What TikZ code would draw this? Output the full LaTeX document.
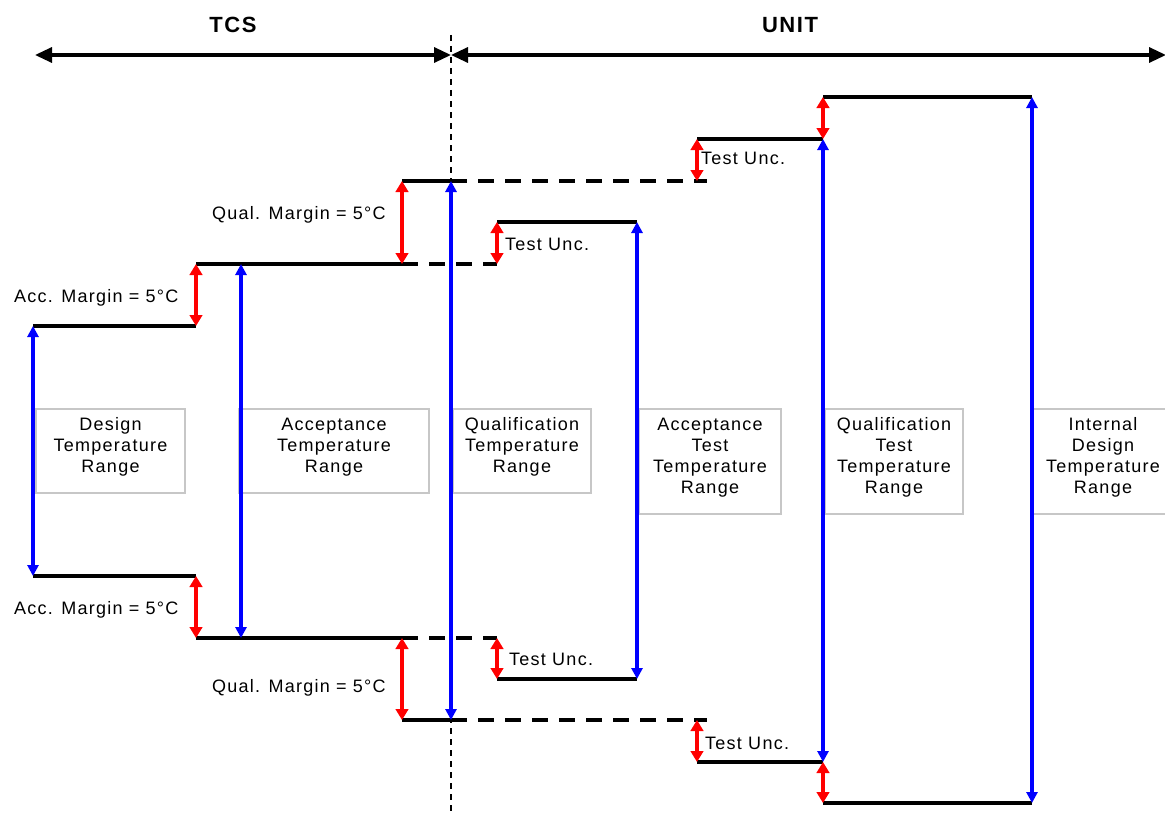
\documentclass[tikz,border=0pt]{standalone}
\usepackage{fontspec}
\setmainfont{Liberation Sans}[LetterSpace=7]
\usetikzlibrary{arrows.meta}
\begin{document}
\begin{tikzpicture}[x=1pt,y=-1pt,
  lvl/.style={line width=3.3pt},
  lvldash/.style={line width=3.3pt, dash pattern=on 16pt off 11pt},
  bluearr/.style={blue, line width=3.5pt, {Triangle[width=11pt,length=11pt]}-{Triangle[width=11pt,length=11pt]}},
  redarr/.style={red, line width=3.5pt, {Triangle[width=12.5pt,length=11pt]}-{Triangle[width=12.5pt,length=11pt]}},
  toparr/.style={line width=3.3pt, {Triangle[width=15pt,length=17pt]}-{Triangle[width=15pt,length=17pt]}},
  lbl/.style={font=\fontsize{18}{21}\selectfont, inner sep=0pt, anchor=west},
  head/.style={font=\fontsize{22}{26}\selectfont\bfseries, inner sep=0pt},
  rangebox/.style={draw=black!22, line width=2pt, fill=white, inner sep=0pt, anchor=north west},
  boxtext/.style={align=center, inner sep=0pt, font=\fontsize{18}{21}\selectfont, yshift=4pt}
]
\useasboundingbox (0,0) rectangle (1165,816);

% headings
\node[head] (tcs) at (233,25) {TCS};
\node[head] (unit) at (790,25) {UNIT};
\coordinate (tl) at (35,55);
\coordinate (tm) at (451,55);
\coordinate (tr) at (1166,55);
\draw[toparr] (tl) -- (tm);
\draw[toparr] (tm) -- (tr);
\coordinate (vt) at (451,35);
\coordinate (vb) at (451,812);
\draw[line width=2.5pt, dash pattern=on 6pt off 5pt] (vt) -- (vb);

% boxes
\node[rangebox, minimum width=149pt, minimum height=84pt] (boxD) at (35,408) {};
\node[rangebox, minimum width=190pt, minimum height=84pt] (boxA) at (238,408) {};
\node[rangebox, minimum width=138pt, minimum height=84pt] (boxQ) at (452,408) {};
\node[rangebox, minimum width=142pt, minimum height=105pt] (boxAT) at (638,408) {};
\node[rangebox, minimum width=138pt, minimum height=105pt] (boxQT) at (824,408) {};
\node[rangebox, minimum width=140pt, minimum height=105pt] (boxID) at (1032,408) {};
\node[boxtext] (txtD) at (boxD.center) {Design\\Temperature\\Range};
\node[boxtext] (txtA) at (boxA.center) {Acceptance\\Temperature\\Range};
\node[boxtext] (txtQ) at (boxQ.center) {Qualification\\Temperature\\Range};
\node[boxtext] (txtAT) at (boxAT.center) {Acceptance\\Test\\Temperature\\Range};
\node[boxtext] (txtQT) at (boxQT.center) {Qualification\\Test\\Temperature\\Range};
\node[boxtext] (txtID) at (boxID.center) {Internal\\Design\\Temperature\\Range};

% coordinates
\coordinate (d1) at (33,326); \coordinate (d2) at (196,326);
\coordinate (d3) at (33,576); \coordinate (d4) at (196,576);
\coordinate (a1) at (196,264); \coordinate (a2) at (402,264); \coordinate (a3) at (497,264);
\coordinate (a4) at (196,638); \coordinate (a5) at (402,638); \coordinate (a6) at (497,638);
\coordinate (ab1) at (241,264); \coordinate (ab2) at (241,638);
\coordinate (q1) at (402,181); \coordinate (q2) at (451,181); \coordinate (q3) at (707,181);
\coordinate (q4) at (402,720); \coordinate (q5) at (451,720); \coordinate (q6) at (707,720);
\coordinate (qx) at (697,181); \coordinate (qy) at (697,720);
\coordinate (t1) at (497,222); \coordinate (t2) at (637,222);
\coordinate (t3) at (497,679); \coordinate (t4) at (637,679);
\coordinate (u1) at (697,139); \coordinate (u2) at (823,139);
\coordinate (u3) at (697,762); \coordinate (u4) at (823,762);
\coordinate (i1) at (823,97); \coordinate (i2) at (1032,97);
\coordinate (i3) at (823,803); \coordinate (i4) at (1032,803);

% level lines
\draw[lvl] (d1) -- (d2);
\draw[lvl] (d3) -- (d4);
\draw[lvl] (a1) -- (a2);
\draw[lvldash] (a2) -- (a3);
\draw[lvl] (a4) -- (a5);
\draw[lvldash] (a5) -- (a6);
\draw[lvl] (q1) -- (q2);
\draw[lvldash] (q2) -- (q3);
\draw[lvl] (q4) -- (q5);
\draw[lvldash] (q5) -- (q6);
\draw[lvl] (t1) -- (t2);
\draw[lvl] (t3) -- (t4);
\draw[lvl] (u1) -- (u2);
\draw[lvl] (u3) -- (u4);
\draw[lvl] (i1) -- (i2);
\draw[lvl] (i3) -- (i4);

% blue ranges
\draw[bluearr] (d1) -- (d3);
\draw[bluearr] (ab1) -- (ab2);
\draw[bluearr] (q2) -- (q5);
\draw[bluearr] (t2) -- (t4);
\draw[bluearr] (u2) -- (u4);
\draw[bluearr] (i2) -- (i4);

% red margins
\draw[redarr] (a1) -- (d2);
\draw[redarr] (d4) -- (a4);
\draw[redarr] (q1) -- (a2);
\draw[redarr] (a5) -- (q4);
\draw[redarr] (t1) -- (a3);
\draw[redarr] (a6) -- (t3);
\draw[redarr] (u1) -- (qx);
\draw[redarr] (qy) -- (u3);
\draw[redarr] (i1) -- (u2);
\draw[redarr] (u4) -- (i3);

% labels
\node[lbl] (l1) at (14,298) {Acc. Margin = 5°C};
\node[lbl] (l2) at (14,610) {Acc. Margin = 5°C};
\node[lbl] (l3) at (212,215) {Qual. Margin = 5°C};
\node[lbl] (l4) at (212,688) {Qual. Margin = 5°C};
\node[lbl] (l5) at (505,244) {Test Unc.};
\node[lbl] (l6) at (509,659) {Test Unc.};
\node[lbl] (l7) at (701,158) {Test Unc.};
\node[lbl] (l8) at (705,743) {Test Unc.};
\end{tikzpicture}
\end{document}
